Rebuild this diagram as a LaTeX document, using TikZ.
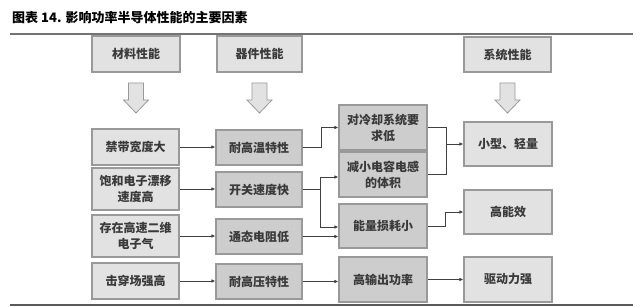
\documentclass[tikz,border=0pt]{standalone}
\usepackage{fontspec}
\setmainfont{Noto Sans CJK SC}
\usetikzlibrary{arrows.meta,calc}
\definecolor{lightbox}{HTML}{E2E2E2}
\definecolor{darkbox}{HTML}{CDCDCD}
\definecolor{boxline}{HTML}{999999}
\definecolor{conn}{HTML}{404040}
\definecolor{txt}{HTML}{3A3A3A}
\tikzset{
  basebox/.style={draw=boxline, line width=1.1pt, inner sep=0pt, align=center,
    text=txt, font=\bfseries\fontsize{12}{16}\selectfont},
  lbox/.style={basebox, fill=lightbox},
  dbox/.style={basebox, fill=darkbox},
  wd/.style={minimum width=#1},
  ht/.style={minimum height=#1},
  conn/.style={draw=conn, line width=0.9pt, -{Latex[length=4pt,width=3.5pt]}},
  plain/.style={draw=conn, line width=0.9pt},
  blockarrow/.style={fill=lightbox, draw=boxline, line width=0.8pt},
}
\begin{document}
\begin{tikzpicture}[x=1pt,y=-1pt]
\useasboundingbox (0,0) rectangle (640,307);
% title
\node[anchor=west, font=\bfseries\fontsize{13}{15}\selectfont, text=black, inner sep=0pt] (title) at (12,18) {图表 14. 影响功率半导体性能的主要因素};
\draw[draw=black!55, line width=1.3pt] (10,34) -- (633,34);
\draw[draw=black!65, line width=1.3pt] (10,305) -- (633,305);
% header boxes
\node[lbox, wd=88pt, ht=36pt] (h1) at (136,54) {材料性能};
\node[lbox, wd=85pt, ht=36pt] (h2) at (259.5,54) {器件性能};
\node[lbox, wd=87pt, ht=35pt] (h3) at (507.5,54.5) {系统性能};
% block arrows
\foreach \cx in {136,259.5,507.5}{
  \draw[blockarrow] (\cx-7.5,83) -- (\cx+7.5,83) -- (\cx+7.5,100) -- (\cx+12.5,100)
    -- (\cx,113) -- (\cx-12.5,100) -- (\cx-7.5,100) -- cycle;
}
% column 1
\node[lbox, wd=87pt, ht=36pt] (a1) at (135.5,147) {禁带宽度大};
\node[lbox, wd=87pt, ht=42pt] (a2) at (135.5,189) {饱和电子漂移\\速度高};
\node[lbox, wd=87pt, ht=42pt] (a3) at (135.5,236) {存在高速二维\\电子气};
\node[lbox, wd=87pt, ht=36pt] (a4) at (135.5,281) {击穿场强高};
% column 2
\node[dbox, wd=86pt, ht=35pt] (b1) at (259,147.5) {耐高温特性};
\node[dbox, wd=86pt, ht=35pt] (b2) at (259,189.5) {开关速度快};
\node[dbox, wd=86pt, ht=35pt] (b3) at (259,236.5) {通态电阻低};
\node[dbox, wd=86pt, ht=35pt] (b4) at (259,281.5) {耐高压特性};
% column 3
\node[dbox, wd=88pt, ht=45pt] (c1) at (383,127.5) {对冷却系统要\\求低};
\node[dbox, wd=88pt, ht=45pt] (c2) at (383,174.5) {减小电容电感\\的体积};
\node[dbox, wd=88pt, ht=44pt] (c3) at (383,226) {能量损耗小};
\node[dbox, wd=88pt, ht=45pt] (c4) at (383,279.5) {高输出功率};
% column 4
\node[lbox, wd=88pt, ht=44pt] (d1) at (508,144) {小型、轻量};
\node[lbox, wd=88pt, ht=44pt] (d2) at (508,212) {高能效};
\node[lbox, wd=88pt, ht=45pt] (d3) at (508,279.5) {驱动力强};
% junctions
\coordinate (j1) at (320,189);
\coordinate (j2) at (446,144);
\coordinate (j3) at (445,212);
\coordinate (j4) at (321,147);
% connectors col1 -> col2
\draw[conn] (a1.east) -- (a1.east -| b1.west);
\draw[conn] (a2.east) -- (a2.east -| b2.west);
\draw[conn] (a3.east) -- (a3.east -| b3.west);
\draw[conn] (a4.east) -- (a4.east -| b4.west);
% col2 -> col3
\draw[conn] (b1.east) -- (b1.east -| j4) |- (c1.west);
\draw[plain] (b2.east) -- (b2.east -| j1);
\draw[conn] (b2.east -| j1) |- ($(c2.west)+(0,2.5)$);
\draw[conn] (b2.east -| j1) |- ($(c3.west)+(0,1)$);
\draw[conn] (b3.east) -- (b3.east -| c3.west);
\draw[conn] (b4.east) -- (b4.east -| c4.west);
% col3 -> col4
\draw[plain] (c1.east) -- (c1.east -| j2) -- (c2.east -| j2) -- (c2.east);
\draw[conn] (j2) -- (d1.west);
\draw[conn] (c3.east) -- (c3.east -| j3) -- (j3) -- (d2.west);
\draw[conn] (c4.east) -- (d3.west);
\end{tikzpicture}
\end{document}
